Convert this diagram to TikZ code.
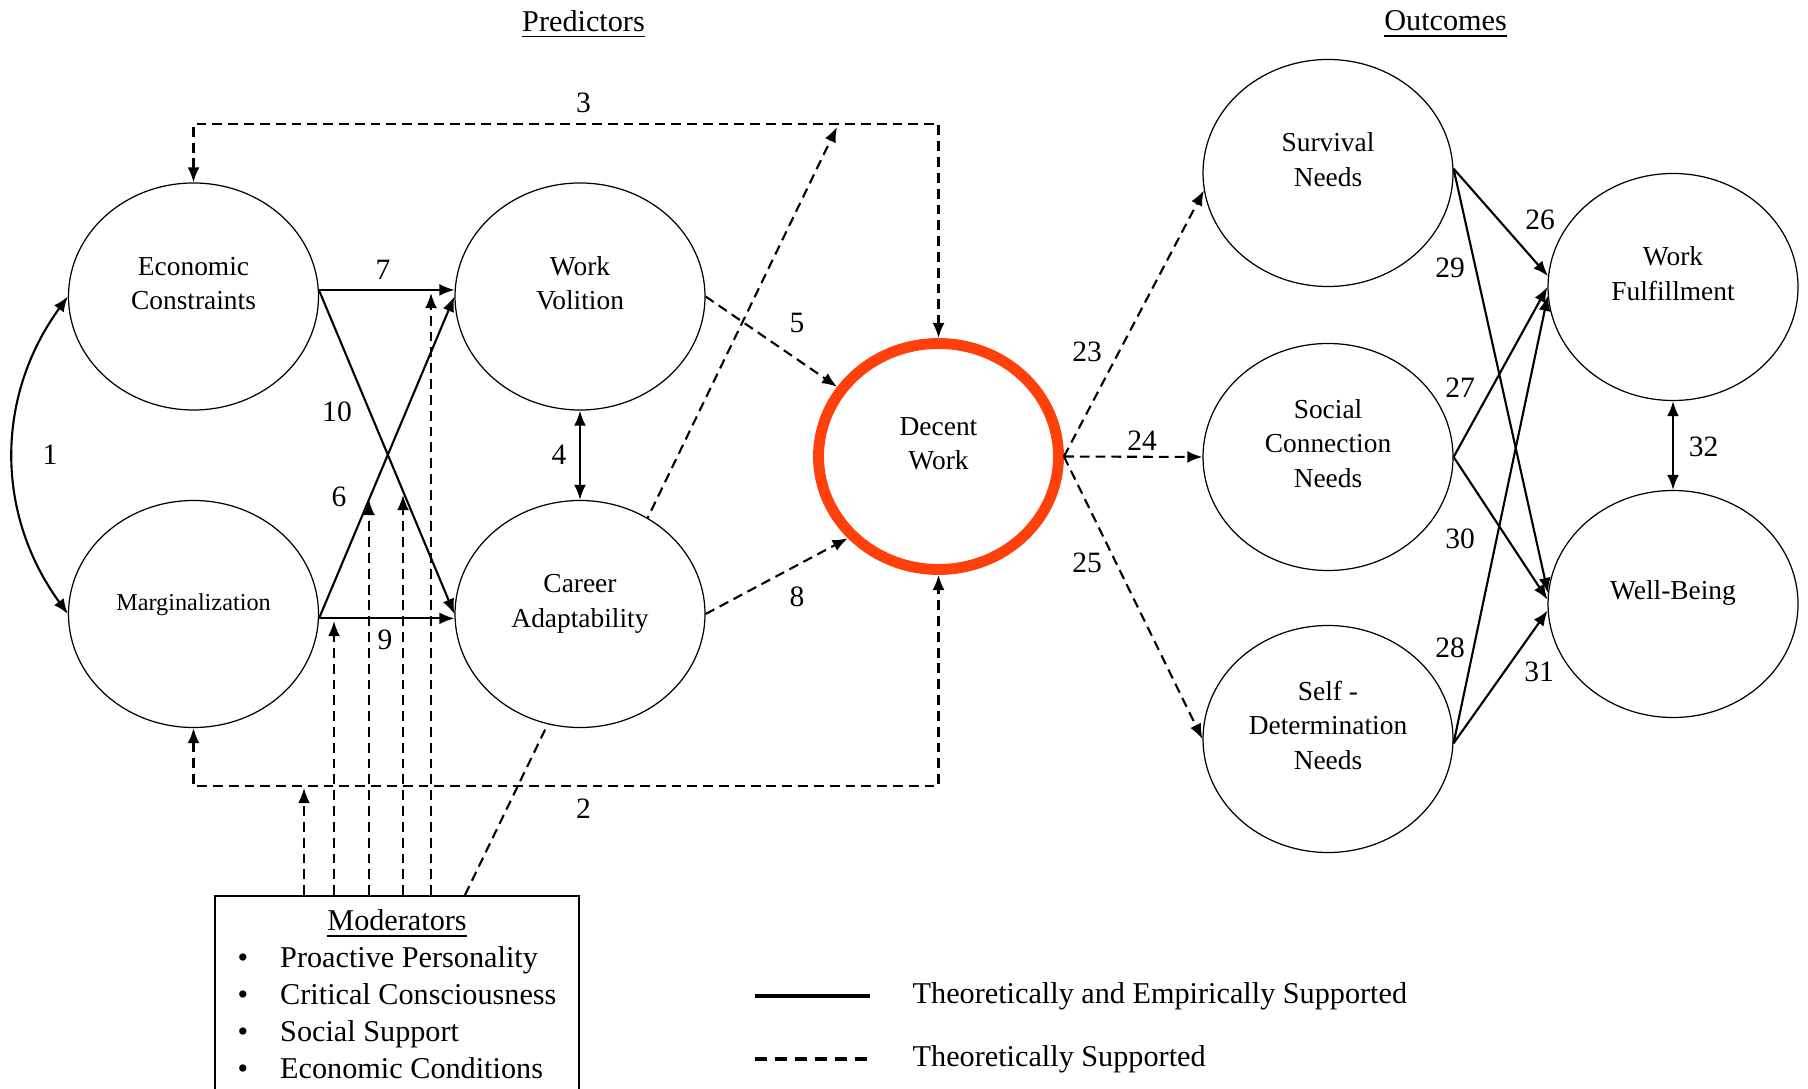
\documentclass[tikz,border=0pt]{standalone}
\usepackage{fontspec}
\setmainfont{Liberation Serif}
\usepackage{xcolor}
\usepackage{tikz}
\usetikzlibrary{arrows.meta}
\usetikzlibrary{shapes.geometric}
\definecolor{ringred}{RGB}{255,64,10}
\tikzset{>={Latex[length=4.3pt,width=3.4pt]}}
\tikzstyle{construct} = [ellipse, draw, line width=0.35pt, fill=white, inner sep=0, minimum width=2.5cm, minimum height=2.27cm, font=\fontsize{7.8}{9.8}\selectfont]
\tikzstyle{emp} = [line width=0.6pt]
\tikzstyle{theo} = [line width=0.6pt, dash pattern=on 2.8pt off 1.7pt]
\tikzstyle{num} = [draw=none, inner sep=0, font=\fontsize{8.4}{10}\selectfont]
\tikzstyle{heading} = [draw=none, inner sep=0, font=\fontsize{8.6}{10.5}\selectfont]
\newcommand{\inell}[1]{\raisebox{1.1pt}[0pt][0pt]{\begin{tabular}{@{}c@{}}#1\end{tabular}}}

\begin{document}
\begin{tikzpicture}
\useasboundingbox (0,0) rectangle (18.08,-10.89);
\clip (0,0) rectangle (18.08,-10.89);

\node [heading] (pred) at (5.835,-0.245) {\underline{Predictors}};
\node [heading] (outc) at (14.456,-0.245) {\underline{Outcomes}};

\node [draw, line width=0.6pt, anchor=north west, minimum width=3.64cm, inner xsep=0, inner ysep=0.09cm, font=\fontsize{8.6}{10.5}\selectfont] (mod) at (2.14,-8.95) {%
  \begin{tabular}{@{}l@{\hspace{0.32cm}}l@{}}
  \multicolumn{2}{@{}c@{}}{\underline{Moderators}}\\
  \textbullet & Proactive Personality\\
  \textbullet & Critical Consciousness\\
  \textbullet & Social Support\\
  \textbullet & Economic Conditions
  \end{tabular}};

% this one runs behind Career Adaptability
\coordinate (mod3) at (8.37,-1.27);
\draw [theo, ->] (4.65,0 |- mod.north) to (mod3);

\node [construct] (EC) at (1.935,-2.965) {\inell{Economic\\Constraints}};
\node [construct] (WV) at (5.80,-2.965) {\inell{Work\\Volition}};
\node [construct, font=\fontsize{6.9}{8.7}\selectfont] (Marg) at (1.935,-6.14) {\inell{Marginalization}};
\node [construct] (CA) at (5.80,-6.14) {\inell{Career\\Adaptability}};
\node [construct, draw=ringred, line width=3.1pt, minimum width=2.40cm, minimum height=2.26cm] (DW) at (9.385,-4.565) {\inell{Decent\\Work}};
\node [construct] (SN) at (13.28,-1.73) {\inell{Survival\\Needs}};
\node [construct] (SCN) at (13.28,-4.57) {\inell{Social\\Connection\\Needs}};
\node [construct] (SDN) at (13.28,-7.39) {\inell{Self -\\Determination\\Needs}};
\node [construct] (WF) at (16.73,-2.87) {\inell{Work\\Fulfillment}};
\node [construct] (WB) at (16.73,-6.04) {\inell{Well-Being}};

\coordinate (top3) at (5.0,-1.24);
\coordinate (bot2) at (5.0,-7.86);

\draw [emp, <->] (EC.west) to [bend right=36] (Marg.west);
\draw [theo, <->] (EC.north) |- (top3) -| (DW.north);
\draw [theo, <->] (Marg.south) |- (bot2) -| (DW.south);
\draw [emp, ->] (EC.3) to (WV.177);
\draw [emp, ->] (EC.3) to (CA.west);
\draw [emp, ->] (Marg.358) to (WV.west);
\draw [emp, ->] (Marg.358) to (CA.182);
\draw [emp, <->] (WV.south) to (CA.north);
\draw [theo, ->] (WV.east) to (DW);
\draw [theo, ->] (CA.east) to (DW.222);

\coordinate (mod2) at (3.04,-7.88);
\coordinate (mod9) at (3.34,-6.21);
\coordinate (mod6) at (3.69,-5.00);
\coordinate (mod10) at (4.03,-4.95);
\coordinate (mod7) at (4.31,-2.93);
\draw [theo, ->] (mod.north -| mod2) to (mod2);
\draw [theo, ->] (mod.north -| mod9) to (mod9);
\draw [theo, ->] (mod.north -| mod6) to (mod6);
\draw [theo, ->] (mod.north -| mod10) to (mod10);
\draw [theo, ->] (mod.north -| mod7) to (mod7);

\draw [theo, ->] (DW.east) to (SN.188);
\draw [theo, ->] (DW.east) to (SCN.west);
\draw [theo, ->] (DW.east) to (SDN.west);
\draw [emp, ->] (SN.2) to (WF.175);
\draw [emp, ->] (SN.2) to (WB.175);
\draw [emp, ->] (SCN.east) to (WF.180);
\draw [emp, ->] (SCN.east) to (WB.178);
\draw [emp, ->] (SDN.358) to (WF.184);
\draw [emp, ->] (SDN.358) to (WB.183);
\draw [emp, <->] (WF.south) to (WB.north);

\node [num] (n1) at (0.50,-4.55) {1};
\node [num] (n2) at (5.835,-8.09) {2};
\node [num] (n3) at (5.835,-1.03) {3};
\node [num] (n4) at (5.59,-4.55) {4};
\node [num] (n5) at (7.97,-3.23) {5};
\node [num] (n6) at (3.39,-4.97) {6};
\node [num] (n7) at (3.83,-2.70) {7};
\node [num] (n8) at (7.97,-5.97) {8};
\node [num] (n9) at (3.85,-6.40) {9};
\node [num] (n10) at (3.37,-4.12) {10};
\node [num] (n23) at (10.87,-3.52) {23};
\node [num] (n24) at (11.42,-4.41) {24};
\node [num] (n25) at (10.87,-5.63) {25};
\node [num] (n26) at (15.40,-2.20) {26};
\node [num] (n27) at (14.60,-3.88) {27};
\node [num] (n28) at (14.50,-6.48) {28};
\node [num] (n29) at (14.50,-2.68) {29};
\node [num] (n30) at (14.60,-5.39) {30};
\node [num] (n31) at (15.39,-6.72) {31};
\node [num] (n32) at (17.035,-4.47) {32};

\node [heading, anchor=west] (legemp) at (9.12,-9.96) {Theoretically and Empirically Supported};
\node [heading, anchor=west] (legtheo) at (9.12,-10.59) {Theoretically Supported};
\draw [line width=1pt] ([xshift=-1.57cm]legemp.west) to ([xshift=-0.42cm]legemp.west);
\draw [line width=1pt, dash pattern=on 3.4pt off 2.3pt] ([xshift=-1.57cm]legtheo.west) to ([xshift=-0.42cm]legtheo.west);
\end{tikzpicture}
\end{document}
